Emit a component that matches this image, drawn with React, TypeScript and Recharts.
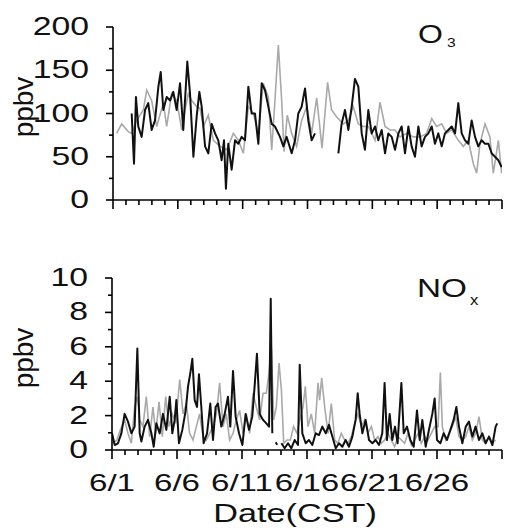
import { LineChart, Line, XAxis, YAxis } from 'recharts'

// day of June (0 = 6/1 00:00) and mixing ratio
const o3Gray: [number, number][] = [
  [0.28, 77], [0.67, 88], [1.18, 79], [1.44, 77], [1.83, 92], [2.34, 104], [2.6, 127], [2.98, 115],
  [3.37, 85], [3.88, 112], [4.14, 85], [4.52, 123], [4.91, 115], [5.3, 81], [5.55, 104], [5.81, 123],
  [6.07, 115], [6.45, 108], [6.71, 106], [6.97, 85], [7.35, 98], [7.74, 69], [8.25, 62], [8.77, 58],
  [9.28, 77], [9.67, 69], [10.05, 54], [10.44, 108], [10.82, 100], [11.21, 77], [11.59, 135], [11.98, 119],
  [12.24, 58], [12.49, 115], [12.75, 179], [13.01, 115], [13.19, 56], [13.44, 98], [13.78, 77], [14.16, 62],
  [14.55, 92], [14.94, 108], [15.32, 77], [15.71, 118], [16.12, 60], [16.55, 136], [16.86, 104], [17.25, 96],
  [17.76, 88], [18.15, 92], [18.53, 108], [18.92, 88], [19.31, 85], [19.69, 85], [20.21, 69], [20.59, 113],
  [20.98, 85], [21.36, 81], [21.75, 81], [22.13, 73], [22.65, 77], [23.16, 73], [23.68, 73], [24.19, 77],
  [24.58, 94], [24.96, 85], [25.35, 88], [25.73, 77], [26.12, 81], [26.63, 69], [27.02, 62], [27.4, 69],
  [27.79, 42], [28.05, 31], [28.3, 65], [28.69, 88], [29.07, 73], [29.33, 31], [29.72, 69], [29.97, 31],
]

const o3Black: [number, number | null][] = [
  [1.44, 100], [1.62, 42], [1.77, 119], [1.95, 85], [2.21, 73], [2.47, 104], [2.72, 112], [2.98, 81],
  [3.24, 92], [3.5, 131], [3.68, 148], [3.88, 104], [4.14, 119], [4.4, 115], [4.65, 125], [4.91, 104],
  [5.17, 135], [5.42, 81], [5.73, 160], [5.94, 123], [6.2, 50], [6.45, 96], [6.66, 125], [6.84, 108],
  [7.1, 62], [7.35, 54], [7.61, 88], [7.87, 77], [8.12, 69], [8.38, 46], [8.56, 69], [8.71, 13],
  [8.89, 65], [9.15, 35], [9.41, 69], [9.67, 65], [9.92, 73], [10.18, 69], [10.44, 131], [10.69, 100],
  [10.95, 100], [11.21, 65], [11.47, 135], [11.72, 127], [11.98, 108], [12.24, 88], [12.49, 85], [12.88, 73],
  [13.14, 62], [13.39, 73], [13.78, 54], [14.04, 69], [14.29, 100], [14.55, 108], [14.81, 129], [15.06, 92],
  [15.32, 69], [15.58, 77], [16.5, null],
  [17.38, 54], [17.63, 88], [17.89, 104], [18.15, 81], [18.41, 108], [18.66, 140], [18.92, 131], [19.18, 77],
  [19.43, 58], [19.69, 104], [19.95, 77], [20.21, 85], [20.46, 69], [20.72, 81], [20.98, 54], [21.23, 77],
  [21.49, 73], [21.75, 58], [22.01, 77], [22.26, 85], [22.52, 54], [22.78, 85], [23.03, 62], [23.29, 50],
  [23.55, 85], [23.8, 62], [24.06, 73], [24.32, 77], [24.58, 85], [24.83, 65], [25.09, 77], [25.35, 62],
  [25.6, 77], [25.86, 81], [26.12, 85], [26.38, 77], [26.63, 112], [26.89, 77], [27.15, 69], [27.4, 65],
  [27.66, 92], [27.92, 73], [28.17, 62], [28.43, 69], [28.69, 65], [28.95, 65], [29.2, 54], [29.46, 50],
  [29.72, 46], [29.97, 38],
]

const noxGray: [number, number][] = [
  [0.08, 0.39], [0.38, 0.58], [0.64, 1.17], [0.97, 1.75], [1.23, 0.97], [1.49, 0.39], [1.74, 2.5], [1.95, 3.1],
  [2.13, 1.75], [2.38, 1.36], [2.64, 3.1], [2.9, 0.78], [3.15, 2.5], [3.36, 0.97], [3.62, 2.8], [3.87, 0.78],
  [4.13, 3.1], [4.38, 1.36], [4.64, 2.1], [4.9, 1.55], [5.21, 4.1], [5.46, 2.1], [5.72, 2.7], [5.97, 0.97],
  [6.23, 0.58], [6.49, 1.36], [6.74, 2.1], [7.0, 0.78], [7.26, 0.58], [7.51, 0.97], [7.77, 1.36], [8.03, 2.1],
  [8.28, 3.9], [8.54, 1.36], [8.79, 2.1], [9.05, 0.58], [9.31, 0.97], [9.56, 1.75], [9.82, 2.3], [10.08, 0.97],
  [10.33, 2.1], [10.59, 0.97], [10.85, 3.3], [11.1, 2.5], [11.36, 1.75], [11.62, 3.3], [11.87, 3.3], [12.08, 4.5],
  [12.26, 6.0], [12.44, 1.75], [12.64, 2.5], [12.85, 5.05], [13.03, 3.5], [13.21, 0.39], [13.46, 0.58], [13.72, 0.58],
  [13.97, 1.36], [14.23, 0.97], [14.44, 1.75], [14.69, 2.5], [14.87, 3.7], [15.08, 1.36], [15.33, 2.1], [15.59, 0.97],
  [15.85, 3.9], [15.97, 2.9], [16.13, 4.2], [16.36, 2.5], [16.62, 0.97], [16.87, 2.7], [17.13, 0.58], [17.38, 0.39],
  [17.64, 0.97], [17.9, 0.58], [18.15, 0.39], [18.41, 0.78], [18.67, 1.55], [18.92, 2.1], [19.18, 1.36], [19.44, 1.75],
  [19.69, 0.97], [19.95, 1.36], [20.21, 0.58], [20.46, 0.78], [20.72, 0.39], [20.97, 0.58], [21.23, 0.97], [21.49, 0.58],
  [21.74, 0.19], [22.0, 0.78], [22.26, 0.58], [22.51, 0.39], [22.77, 0.97], [23.03, 0.29], [23.28, 0.58], [23.54, 0.97],
  [23.79, 0.39], [24.05, 0.78], [24.31, 0.58], [24.56, 0.97], [24.82, 1.36], [25.08, 1.36], [25.26, 4.5], [25.41, 1.36],
  [25.67, 0.58], [25.92, 0.97], [26.18, 1.36], [26.44, 1.94], [26.69, 0.78], [26.95, 0.58], [27.21, 0.78], [27.46, 1.36],
  [27.72, 0.58], [27.97, 0.97], [28.23, 1.94], [28.49, 0.58], [28.74, 0.39], [29.0, 0.78], [29.26, 0.39], [29.51, 0.58],
]

const noxBlack: [number, number | null][] = [
  [0.0, 0.97], [0.21, 0.29], [0.46, 0.39], [0.72, 0.97], [0.97, 2.1], [1.23, 1.65], [1.49, 0.97], [1.74, 1.36],
  [1.95, 5.9], [2.13, 0.97], [2.26, 0.49], [2.51, 1.36], [2.77, 1.75], [3.03, 0.97], [3.21, 0.19], [3.41, 1.55],
  [3.67, 0.97], [3.92, 2.1], [4.18, 1.17], [4.44, 3.1], [4.64, 0.97], [4.82, 1.75], [4.95, 2.9], [5.15, 0.39],
  [5.41, 1.17], [5.67, 2.3], [5.85, 3.7], [6.03, 4.5], [6.18, 5.3], [6.36, 2.9], [6.54, 2.5], [6.69, 4.4],
  [6.87, 2.5], [7.05, 0.39], [7.31, 0.97], [7.56, 2.7], [7.77, 0.58], [7.97, 2.5], [8.15, 2.7], [8.41, 1.36],
  [8.67, 2.1], [8.92, 3.1], [9.1, 1.36], [9.31, 4.6], [9.51, 1.94], [9.77, 0.97], [10.03, 0.29], [10.28, 2.1],
  [10.54, 1.17], [10.79, 1.94], [10.97, 3.7], [11.15, 5.6], [11.36, 2.1], [11.62, 1.75], [11.87, 1.55], [12.08, 1.36],
  [12.21, 8.8], [12.33, 0.97], [12.5, null], [12.6, 0.45], [12.7, 0.3], [12.85, null],
  [13.03, 0.39], [13.28, 0.1], [13.54, 0.39], [13.79, 0.1], [14.05, 0.58], [14.31, 0.29], [14.44, 4.95], [14.64, 0.97],
  [14.9, 0.39], [15.15, 0.58], [15.41, 0.29], [15.67, 0.97], [15.92, 0.87], [16.18, 1.36], [16.44, 0.97], [16.69, 1.46],
  [16.95, 0.78], [17.21, 0.1], [17.46, 0.39], [17.72, 0.19], [17.97, 0.58], [18.23, 0.19], [18.49, 0.78], [18.74, 1.75],
  [18.9, 3.3], [19.05, 2.1], [19.26, 0.97], [19.51, 1.75], [19.77, 0.58], [20.03, 0.39], [20.28, 0.58], [20.54, 0.29],
  [20.79, 0.97], [20.97, 3.9], [21.15, 0.58], [21.36, 2.1], [21.56, 0.58], [21.77, 1.36], [21.97, 0.39], [22.26, 3.9],
  [22.44, 0.97], [22.69, 1.36], [22.95, 0.58], [23.21, 0.19], [23.46, 2.3], [23.67, 0.58], [23.87, 1.75], [24.13, 0.19],
  [24.38, 1.17], [24.64, 2.1], [24.82, 3.0], [25.0, 0.58], [25.26, 0.39], [25.51, 0.97], [25.77, 0.58], [26.03, 1.17],
  [26.28, 1.75], [26.49, 2.5], [26.69, 1.36], [26.95, 0.39], [27.21, 1.36], [27.46, 1.65], [27.72, 0.78], [27.97, 1.36],
  [28.23, 0.58], [28.49, 0.97], [28.74, 0.39], [29.0, 0.78], [29.26, 0.29], [29.51, 1.36], [29.64, 1.55],
]

const dateLabels = ['6/1', '6/6', '6/11', '6/16', '6/21', '6/26']
const dayTicks = [0, 1, 2, 3, 4, 5, 6, 7, 8, 9, 10, 11, 12, 13, 14, 15, 16, 17, 18, 19, 20, 21, 22, 23, 24, 25, 26, 27, 28, 29, 30]
const o3Ticks = [0, 25, 50, 75, 100, 125, 150, 175, 200]
const noxTicks = [0, 1, 2, 3, 4, 5, 6, 7, 8, 9, 10]

const FONT = '"Liberation Sans", Arial, sans-serif'
const GRAY = '#a9a9a9'
const INK = '#111'

const toPoints = (rows: [number, number | null][]) => rows.map(([d, v]) => ({ d, v }))

function XTick({ x, y, payload, showLabel }: any) {
  const d = payload.value as number
  const major = d % 5 === 0
  return (
    <g>
      <line x1={x} x2={x} y1={y} y2={y + (major ? 9 : 5)} stroke="#000" strokeWidth={1.6} />
      {showLabel && major && d < 30 && (
        <text transform={`translate(${x},${y + 41}) scale(1.38,1)`} textAnchor="middle" fontSize={24} fontFamily={FONT} fill={INK}>
          {dateLabels[d / 5]}
        </text>
      )}
    </g>
  )
}

function YTick({ x, y, payload, step }: any) {
  const v = payload.value as number
  const major = v % step === 0
  return (
    <g>
      <line x1={x} x2={x - (major ? 7 : 4)} y1={y} y2={y} stroke="#000" strokeWidth={1.6} />
      {major && (
        <text transform={`translate(${x - 24},${y + 8}) scale(1.35,1)`} textAnchor="end" fontSize={25} fontFamily={FONT} fill={INK}>
          {v}
        </text>
      )}
    </g>
  )
}

const axisLine = { stroke: '#000', strokeWidth: 1.6 }

export default function App() {
  return (
    <div style={{ position: 'absolute', left: 0, top: 0, width: 508, height: 530, background: '#fff' }}>
      <div style={{ position: 'absolute', left: 0, top: 0 }}>
        <LineChart width={508} height={240} margin={{ top: 27, right: 6, bottom: 30, left: 0 }}>
          <XAxis dataKey="d" type="number" domain={[0, 30]} ticks={dayTicks} interval={0} height={10}
            tickSize={0} tickMargin={0} tickLine={false} axisLine={axisLine} allowDataOverflow
            tick={(p: any) => <XTick {...p} showLabel={false} />} />
          <YAxis type="number" domain={[0, 200]} ticks={o3Ticks} interval={0} width={113}
            tickSize={0} tickMargin={0} tickLine={false} axisLine={axisLine} allowDataOverflow
            tick={(p: any) => <YTick {...p} step={50} />} />
          <Line data={toPoints(o3Gray)} dataKey="v" type="linear" stroke={GRAY} strokeWidth={1.6} dot={false} isAnimationActive={false} />
          <Line data={toPoints(o3Black)} dataKey="v" type="linear" stroke={INK} strokeWidth={2} strokeLinejoin="round" dot={false} connectNulls={false} isAnimationActive={false} />
        </LineChart>
      </div>
      <div style={{ position: 'absolute', left: 0, top: 250 }}>
        <LineChart width={508} height={280} margin={{ top: 28, right: 6, bottom: 30, left: 0 }}>
          <XAxis dataKey="d" type="number" domain={[0, 30]} ticks={dayTicks} interval={0} height={50}
            tickSize={0} tickMargin={0} tickLine={false} axisLine={axisLine} allowDataOverflow
            tick={(p: any) => <XTick {...p} showLabel />} />
          <YAxis type="number" domain={[0, 10]} ticks={noxTicks} interval={0} width={112}
            tickSize={0} tickMargin={0} tickLine={false} axisLine={axisLine} allowDataOverflow
            tick={(p: any) => <YTick {...p} step={2} />} />
          <Line data={toPoints(noxGray)} dataKey="v" type="linear" stroke={GRAY} strokeWidth={1.6} dot={false} isAnimationActive={false} />
          <Line data={toPoints(noxBlack)} dataKey="v" type="linear" stroke={INK} strokeWidth={2} strokeLinejoin="round" dot={false} connectNulls={false} isAnimationActive={false} />
        </LineChart>
      </div>
      <svg width={508} height={530} style={{ position: 'absolute', left: 0, top: 0, pointerEvents: 'none' }} fontFamily={FONT} fill={INK}>
        <text transform="translate(33,107) rotate(-90)" textAnchor="middle" fontSize={28}>ppbv</text>
        <text transform="translate(33,358) rotate(-90)" textAnchor="middle" fontSize={28}>ppbv</text>
        <text transform="translate(418,43) scale(1.28,1)" fontSize={25}>O</text>
        <text transform="translate(447,47) scale(1.2,1)" fontSize={13}>3</text>
        <text transform="translate(417,297) scale(1.28,1)" fontSize={26}>NO</text>
        <text transform="translate(470,305) scale(1.2,1)" fontSize={14}>x</text>
        <text transform="translate(295,522) scale(1.37,1)" textAnchor="middle" fontSize={25}>Date(CST)</text>
      </svg>
    </div>
  )
}
